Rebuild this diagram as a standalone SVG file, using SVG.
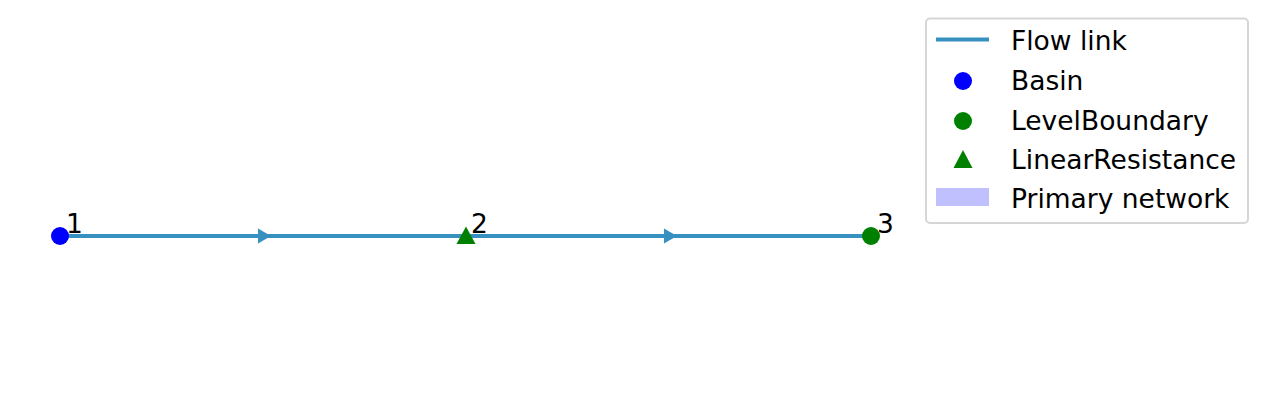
<svg xmlns="http://www.w3.org/2000/svg" width="1267" height="403" viewBox="0 0 1267 403">
<style>
text{font-family:"DejaVu Sans","Liberation Sans",sans-serif;font-size:26.5px;fill:#000}
.link{stroke:#3690c0;stroke-width:4;fill:none}
.arr{fill:#3690c0}
.basin{fill:#0000ff}
.green{fill:#008000}
</style>
<rect width="1267" height="403" fill="#fff"/>
<g id="connectors">
<line class="link" x1="60" y1="236" x2="466" y2="236"/>
<line class="link" x1="466" y1="236" x2="871" y2="236"/>
<polygon class="arr" points="258,228.5 271,236 258,243.5"/>
<polygon class="arr" points="664,228.5 677,236 664,243.5"/>
</g>
<g id="node1">
<circle class="basin" cx="60" cy="236" r="9"/>
<text x="66" y="233">1</text>
</g>
<g id="node2">
<polygon class="green" points="466,226.5 475.5,244 456.5,244"/>
<text x="471" y="233">2</text>
</g>
<g id="node3">
<circle class="green" cx="871" cy="236" r="9"/>
<text x="877" y="233">3</text>
</g>
<g id="legend">
<rect x="926" y="18.5" width="322" height="204.5" rx="4" fill="#fff" fill-opacity="0.8" stroke="#d6d6d6" stroke-width="2"/>
<line class="link" x1="936" y1="39.5" x2="989" y2="39.5"/>
<text x="1011" y="50">Flow link</text>
<circle class="basin" cx="963" cy="81" r="9"/>
<text x="1011" y="90">Basin</text>
<circle class="green" cx="963" cy="121" r="9"/>
<text x="1011" y="130">LevelBoundary</text>
<polygon class="green" points="963,150 972.5,168 953.5,168"/>
<text x="1011" y="169">LinearResistance</text>
<rect x="936" y="188" width="53" height="18" fill="#c0c0ff"/>
<text x="1011" y="208">Primary network</text>
</g>
</svg>
